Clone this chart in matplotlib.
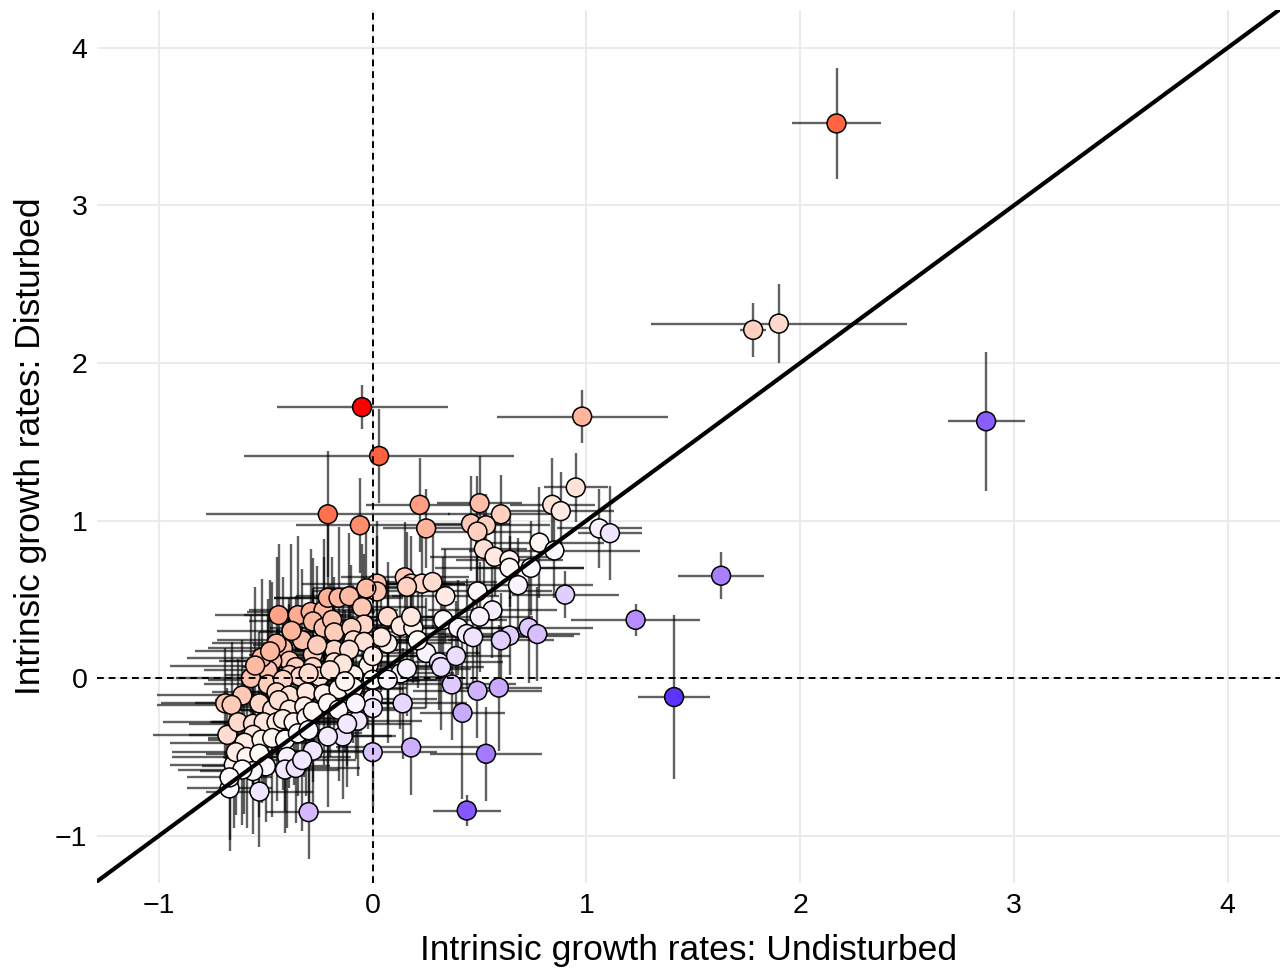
import numpy as np
import matplotlib
matplotlib.use("Agg")
import matplotlib.pyplot as plt
from matplotlib.colors import ListedColormap

plt.rcParams['font.family'] = ['Liberation Sans', 'DejaVu Sans']

# intrinsic growth rates (undisturbed on x, disturbed on y) and error bar half-widths
undist = [2.17, 1.78, 1.90, 2.87, 0.98, -0.05, 0.03, 1.63, 1.41, 1.23, 0.44, 0.53, 0.95, -0.21, -0.06, 0.22, 0.25,
          0.50, 0.60, 0.46, 0.53, 0.49, 0.52, 0.57, 0.64, 0.64, 0.84, 0.88, 0.78, 0.85, 0.74, 0.68, 0.90, 1.06, 1.11,
          0.15, 0.18, 0.23, 0.28, 0.16, 0.34, 0.49, 0.56, 0.50, 0.33, 0.40, 0.44, 0.47, 0.64, 0.60, 0.73, 0.77,
          0.25, 0.31, 0.32, 0.39, 0.37, 0.49, 0.59, 0.14, 0.42, 0.18, 0.07, 0.13, 0.16,
          0.07, 0.13, 0.19, 0.18, 0.07, 0.21, 0.04, -0.02, -0.09, 0.00, 0.07, 0.00, 0.00, 0.00, -0.12, -0.07,
          -0.14, -0.21, -0.28, -0.30, -0.53, -0.67, -0.69, -0.68, -0.65, 0.02, 0.02, -0.03,
          -0.44, -0.35, -0.29, -0.23, -0.21, -0.16, -0.11, -0.28, -0.23, -0.19, -0.18, -0.05, -0.04, -0.10, -0.09,
          -0.04, -0.42, -0.39, -0.47, -0.49, -0.57, -0.49, -0.61, -0.36, -0.28, -0.28, -0.18, -0.18, -0.11, -0.14,
          0.00, -0.39, -0.34, -0.25, -0.42, -0.45, -0.39, -0.31, -0.23, -0.16, -0.09,
          -0.66, -0.53, -0.47, -0.44, -0.39, -0.32, -0.63, -0.56, -0.51, -0.45, -0.42, -0.37, -0.31, -0.28, -0.21,
          -0.16, -0.56, -0.60, -0.52, -0.47, -0.41, -0.35, -0.30, -0.12, -0.08, -0.64, -0.59, -0.53, -0.50, -0.56,
          -0.61, -0.67, -0.40, -0.41, -0.36, -0.33,
          -0.52, -0.45, -0.33, -0.26, -0.38, -0.30, -0.55, -0.48, -0.20, -0.13]
dist = [3.52, 2.21, 2.25, 1.63, 1.66, 1.72, 1.41, 0.65, -0.12, 0.37, -0.84, -0.48, 1.21, 1.04, 0.97, 1.10, 0.95,
        1.11, 1.04, 0.98, 0.97, 0.93, 0.82, 0.77, 0.75, 0.70, 1.10, 1.06, 0.86, 0.81, 0.70, 0.59, 0.53, 0.95, 0.92,
        0.64, 0.60, 0.60, 0.61, 0.58, 0.52, 0.55, 0.43, 0.39, 0.37, 0.32, 0.28, 0.26, 0.27, 0.24, 0.32, 0.28,
        0.16, 0.10, 0.07, 0.14, -0.04, -0.08, -0.06, -0.16, -0.22, -0.44, 0.01, 0.03, 0.06,
        0.39, 0.33, 0.32, 0.39, 0.22, 0.24, 0.26, 0.08, 0.02, -0.01, -0.01, -0.13, -0.19, -0.47, -0.16, -0.27,
        -0.37, -0.37, -0.46, -0.85, -0.72, -0.70, -0.16, -0.36, -0.55, 0.60, 0.55, 0.57,
        0.40, 0.40, 0.42, 0.43, 0.51, 0.51, 0.52, 0.36, 0.32, 0.37, 0.29, 0.45, 0.34, 0.32, 0.24,
        0.23, 0.19, 0.11, 0.11, 0.05, 0.00, -0.04, -0.11, 0.07, 0.15, 0.07, 0.18, 0.10, 0.18, 0.09,
        0.14, 0.02, 0.01, 0.01, -0.01, -0.09, -0.11, -0.09, -0.10, -0.07, -0.06,
        -0.17, -0.16, -0.20, -0.14, -0.20, -0.18, -0.28, -0.29, -0.28, -0.28, -0.26, -0.28, -0.25, -0.21, -0.16,
        -0.20, -0.36, -0.41, -0.39, -0.38, -0.39, -0.35, -0.33, -0.29, -0.16, -0.47, -0.50, -0.48, -0.56, -0.59,
        -0.58, -0.63, -0.50, -0.58, -0.57, -0.52,
        0.13, 0.22, 0.24, 0.21, 0.30, 0.03, 0.08, 0.17, 0.05, -0.02]
undist_err = [0.21, 0.06, 0.60, 0.18, 0.40, 0.40, 0.63, 0.20, 0.17, 0.30, 0.16, 0.26, 0.15, 0.57, 0.30, 0.25, 0.20,
              0.20, 0.25, 0.18, 0.30, 0.25, 0.20, 0.30, 0.25, 0.35, 0.20, 0.25, 0.30, 0.40, 0.25, 0.35, 0.25, 0.20, 0.15,
              0.30, 0.25, 0.20, 0.30, 0.20, 0.25, 0.35, 0.30, 0.25, 0.30, 0.25, 0.20, 0.30, 0.30, 0.25, 0.30, 0.20,
              0.25, 0.30, 0.20, 0.25, 0.30, 0.30, 0.20, 0.30, 0.20, 0.35, 0.30, 0.25, 0.30,
              0.25, 0.30, 0.25, 0.20, 0.30, 0.25, 0.20, 0.30, 0.25, 0.30, 0.25, 0.30, 0.25, 0.30, 0.25, 0.30,
              0.25, 0.30, 0.25, 0.20, 0.25, 0.20, 0.30, 0.35, 0.30, 0.35, 0.30, 0.25,
              0.30, 0.25, 0.30, 0.35, 0.25, 0.30, 0.25, 0.30, 0.25, 0.30, 0.35, 0.30, 0.25, 0.30, 0.25,
              0.30, 0.35, 0.30, 0.25, 0.30, 0.35, 0.30, 0.40, 0.25, 0.30, 0.25, 0.30, 0.25, 0.30, 0.25,
              0.30, 0.30, 0.25, 0.30, 0.35, 0.30, 0.25, 0.30, 0.25, 0.30, 0.25,
              0.35, 0.30, 0.25, 0.30, 0.25, 0.30, 0.35, 0.30, 0.25, 0.30, 0.25, 0.30, 0.25, 0.30, 0.25,
              0.30, 0.30, 0.35, 0.25, 0.30, 0.25, 0.30, 0.25, 0.30, 0.25, 0.30, 0.35, 0.25, 0.30, 0.25,
              0.30, 0.20, 0.30, 0.25, 0.30, 0.25,
              0.35, 0.30, 0.40, 0.30, 0.35, 0.30, 0.40, 0.35, 0.30, 0.35]
dist_err = [0.35, 0.17, 0.25, 0.44, 0.17, 0.14, 0.30, 0.15, 0.52, 0.10, 0.10, 0.30, 0.22, 0.40, 0.30, 0.30, 0.25,
            0.30, 0.25, 0.30, 0.20, 0.35, 0.30, 0.25, 0.30, 0.20, 0.30, 0.25, 0.35, 0.30, 0.30, 0.30, 0.15, 0.25, 0.30,
            0.35, 0.30, 0.40, 0.30, 0.35, 0.30, 0.40, 0.30, 0.35, 0.40, 0.30, 0.35, 0.30, 0.25, 0.30, 0.35, 0.30,
            0.35, 0.30, 0.40, 0.35, 0.35, 0.30, 0.40, 0.35, 0.55, 0.30, 0.30, 0.35, 0.30,
            0.35, 0.30, 0.35, 0.30, 0.40, 0.30, 0.35, 0.40, 0.35, 0.30, 0.40, 0.35, 0.30, 0.35, 0.40, 0.35,
            0.40, 0.45, 0.40, 0.30, 0.35, 0.40, 0.35, 0.30, 0.40, 0.40, 0.35, 0.45,
            0.45, 0.50, 0.40, 0.45, 0.50, 0.45, 0.40, 0.40, 0.45, 0.40, 0.35, 0.40, 0.45, 0.40, 0.35,
            0.40, 0.45, 0.40, 0.50, 0.45, 0.40, 0.45, 0.35, 0.45, 0.40, 0.50, 0.40, 0.45, 0.35, 0.40,
            0.40, 0.45, 0.40, 0.50, 0.45, 0.40, 0.45, 0.40, 0.45, 0.40, 0.35,
            0.40, 0.45, 0.40, 0.45, 0.50, 0.45, 0.40, 0.45, 0.40, 0.50, 0.45, 0.40, 0.50, 0.45, 0.40,
            0.45, 0.40, 0.45, 0.40, 0.50, 0.45, 0.40, 0.50, 0.40, 0.35, 0.40, 0.45, 0.40, 0.35, 0.40,
            0.35, 0.40, 0.45, 0.40, 0.35, 0.45,
            0.50, 0.55, 0.45, 0.50, 0.55, 0.45, 0.50, 0.45, 0.55, 0.45]

x = np.array(undist)
y = np.array(dist)
diff = y - x


# white -> blue / white -> red ramps interpolated in Lab space
def to_lab(rgb):
    c = np.asarray(rgb, dtype=float)
    c = np.where(c <= 0.04045, c / 12.92, ((c + 0.055) / 1.055) ** 2.4)
    m = np.array([[0.4124, 0.3576, 0.1805], [0.2126, 0.7152, 0.0722], [0.0193, 0.1192, 0.9505]])
    xyz = m @ c / np.array([0.95047, 1.0, 1.08883])
    f = np.where(xyz > (6 / 29) ** 3, np.cbrt(xyz), xyz / (3 * (6 / 29) ** 2) + 4 / 29)
    return np.array([116 * f[1] - 16, 500 * (f[0] - f[1]), 200 * (f[1] - f[2])])


def from_lab(lab):
    fy = (lab[0] + 16) / 116
    f = np.array([fy + lab[1] / 500, fy, fy - lab[2] / 200])
    xyz = np.where(f > 6 / 29, f ** 3, 3 * (6 / 29) ** 2 * (f - 4 / 29)) * np.array([0.95047, 1.0, 1.08883])
    mi = np.linalg.inv(np.array([[0.4124, 0.3576, 0.1805], [0.2126, 0.7152, 0.0722], [0.0193, 0.1192, 0.9505]]))
    c = np.clip(mi @ xyz, 0, 1)
    return np.where(c <= 0.0031308, 12.92 * c, 1.055 * c ** (1 / 2.4) - 0.055)


low, mid, high = to_lab([0, 0, 1]), to_lab([1, 1, 1]), to_lab([1, 0, 0])
ramp = []
for t in np.linspace(0, 1, 256):
    if t < 0.5:
        lab = low + (mid - low) * (t / 0.5)
    else:
        lab = mid + (high - mid) * ((t - 0.5) / 0.5)
    ramp.append(np.clip(from_lab(lab), 0, 1))
cmap = ListedColormap(ramp)
lim = np.abs(diff).max()

fig = plt.figure(figsize=(12.86, 9.73), dpi=100)
ax = fig.add_axes([97 / 1286, 1 - 883 / 973, (1280 - 97) / 1286, (883 - 10) / 973])

ax.errorbar(x, y, xerr=undist_err, yerr=dist_err, fmt='none', ecolor='black', alpha=0.62,
            elinewidth=1.7, capsize=0, zorder=2)
ax.scatter(x, y, c=diff, cmap=cmap, vmin=-lim, vmax=lim, s=185, edgecolors='black', linewidths=1.1, zorder=3)

ax.axhline(0, color='black', lw=1.4, dashes=(3.5, 2.5), zorder=4)
ax.axvline(0, color='black', lw=1.4, dashes=(3.5, 2.5), zorder=4)
ax.axline((0, 0), slope=1, color='black', lw=3, zorder=5)

ax.set_xlim(-1.29, 4.245)
ax.set_ylim(-1.30, 4.24)
ax.set_xticks([-1, 0, 1, 2, 3, 4])
ax.set_yticks([-1, 0, 1, 2, 3, 4])
ax.grid(True, color='#EBEBEB', lw=1.5, zorder=0)
ax.set_axisbelow(True)
for s in ax.spines.values():
    s.set_visible(False)
ax.tick_params(length=0, labelsize=20.5, pad=7)

ax.set_xlabel('Intrinsic growth rates: Undisturbed', fontsize=25.5, labelpad=11)
ax.set_ylabel('Intrinsic growth rates: Disturbed', fontsize=25.5, labelpad=6)

fig.savefig('out.png', dpi=100)
